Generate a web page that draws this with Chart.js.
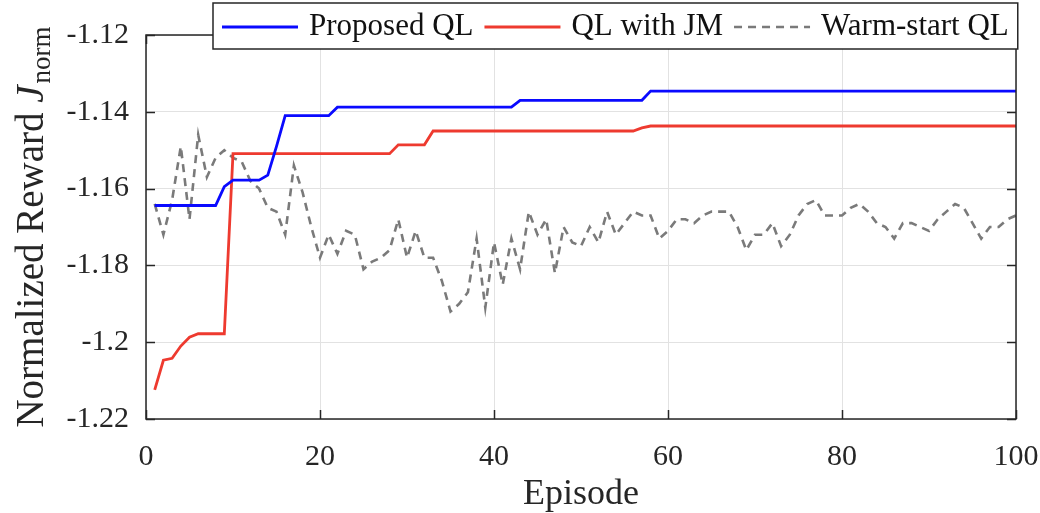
<!DOCTYPE html>
<html>
<head>
<meta charset="utf-8">
<script src="https://cdn.jsdelivr.net/npm/chart.js@4.4.1/dist/chart.umd.min.js"></script>
<style>
  html, body { margin: 0; padding: 0; background: #fff; }
  #wrap { width: 1040px; height: 513px; }
</style>
</head>
<body>
<div id="wrap"><canvas id="chart"></canvas></div>
<script>
const FONT = "'Liberation Serif', 'Times New Roman', serif";
const INK = "#262626";

const episodes = Array.from({ length: 100 }, (_, i) => i + 1);

const proposedQL = [
  -1.1644, -1.1644, -1.1644, -1.1644, -1.1644, -1.1644, -1.1644, -1.1644, -1.1595, -1.1578,
  -1.1578, -1.1578, -1.1578, -1.1565, -1.149, -1.141, -1.141, -1.141, -1.141, -1.141,
  -1.141, -1.1388, -1.1388, -1.1388, -1.1388, -1.1388, -1.1388, -1.1388, -1.1388, -1.1388,
  -1.1388, -1.1388, -1.1388, -1.1388, -1.1388, -1.1388, -1.1388, -1.1388, -1.1388, -1.1388,
  -1.1388, -1.1388, -1.137, -1.137, -1.137, -1.137, -1.137, -1.137, -1.137, -1.137,
  -1.137, -1.137, -1.137, -1.137, -1.137, -1.137, -1.137, -1.1346, -1.1346, -1.1346,
  -1.1346, -1.1346, -1.1346, -1.1346, -1.1346, -1.1346, -1.1346, -1.1346, -1.1346, -1.1346,
  -1.1346, -1.1346, -1.1346, -1.1346, -1.1346, -1.1346, -1.1346, -1.1346, -1.1346, -1.1346,
  -1.1346, -1.1346, -1.1346, -1.1346, -1.1346, -1.1346, -1.1346, -1.1346, -1.1346, -1.1346,
  -1.1346, -1.1346, -1.1346, -1.1346, -1.1346, -1.1346, -1.1346, -1.1346, -1.1346, -1.1346,
];

const qlWithJM = [
  -1.2124, -1.2047, -1.2042, -1.201, -1.1987, -1.1978, -1.1978, -1.1978, -1.1978, -1.1509,
  -1.1509, -1.1509, -1.1509, -1.1509, -1.1509, -1.1509, -1.1509, -1.1509, -1.1509, -1.1509,
  -1.1509, -1.1509, -1.1509, -1.1509, -1.1509, -1.1509, -1.1509, -1.1509, -1.1486, -1.1486,
  -1.1486, -1.1486, -1.145, -1.145, -1.145, -1.145, -1.145, -1.145, -1.145, -1.145,
  -1.145, -1.145, -1.145, -1.145, -1.145, -1.145, -1.145, -1.145, -1.145, -1.145,
  -1.145, -1.145, -1.145, -1.145, -1.145, -1.145, -1.1442, -1.1437, -1.1437, -1.1437,
  -1.1437, -1.1437, -1.1437, -1.1437, -1.1437, -1.1437, -1.1437, -1.1437, -1.1437, -1.1437,
  -1.1437, -1.1437, -1.1437, -1.1437, -1.1437, -1.1437, -1.1437, -1.1437, -1.1437, -1.1437,
  -1.1437, -1.1437, -1.1437, -1.1437, -1.1437, -1.1437, -1.1437, -1.1437, -1.1437, -1.1437,
  -1.1437, -1.1437, -1.1437, -1.1437, -1.1437, -1.1437, -1.1437, -1.1437, -1.1437, -1.1437,
];

const warmStartQL = [
  -1.164, -1.172, -1.163, -1.149, -1.168, -1.146, -1.157, -1.152, -1.150, -1.152,
  -1.153, -1.158, -1.160, -1.165, -1.166, -1.172, -1.154, -1.161, -1.170, -1.178,
  -1.172, -1.177, -1.171, -1.172, -1.181, -1.179, -1.178, -1.176, -1.168, -1.178,
  -1.171, -1.178, -1.178, -1.184, -1.192, -1.190, -1.187, -1.173, -1.191, -1.174,
  -1.185, -1.173, -1.181, -1.166, -1.172, -1.168, -1.182, -1.170, -1.174, -1.175,
  -1.170, -1.174, -1.166, -1.172, -1.169, -1.166, -1.167, -1.167, -1.173, -1.171,
  -1.168, -1.168, -1.169, -1.167, -1.166, -1.166, -1.166, -1.170, -1.176, -1.172,
  -1.172, -1.169, -1.175, -1.172, -1.167, -1.164, -1.163, -1.167, -1.167, -1.167,
  -1.165, -1.164, -1.166, -1.169, -1.170, -1.173, -1.169, -1.169, -1.170, -1.171,
  -1.168, -1.166, -1.164, -1.165, -1.169, -1.173, -1.170, -1.170, -1.168, -1.167,
];

const xTicks = [0, 20, 40, 60, 80, 100];
const yTicks = [-1.22, -1.2, -1.18, -1.16, -1.14, -1.12];

const toPoints = (values) => values.map((v, i) => ({ x: episodes[i], y: v }));

// axes box + inward tick marks (MATLAB style)
const axesFrame = {
  id: "axesFrame",
  afterDatasetsDraw(chart) {
    const { ctx, chartArea: a, scales } = chart;
    ctx.save();
    ctx.strokeStyle = INK;
    ctx.lineWidth = 1.5;
    ctx.strokeRect(a.left, a.top, a.right - a.left, a.bottom - a.top);
    ctx.beginPath();
    scales.x.ticks.forEach((t) => {
      const px = Math.round(scales.x.getPixelForValue(t.value)) + 0.5;
      ctx.moveTo(px, a.bottom); ctx.lineTo(px, a.bottom - 9);
      ctx.moveTo(px, a.top); ctx.lineTo(px, a.top + 9);
    });
    scales.y.ticks.forEach((t) => {
      const py = Math.round(scales.y.getPixelForValue(t.value)) + 0.5;
      ctx.moveTo(a.left, py); ctx.lineTo(a.left + 9, py);
      ctx.moveTo(a.right, py); ctx.lineTo(a.right - 9, py);
    });
    ctx.stroke();
    ctx.restore();
  },
};

// y title with italic J and subscript "norm"
const yTitle = {
  id: "yTitle",
  afterDraw(chart) {
    const { ctx, chartArea: a } = chart;
    const main = "Normalized Reward ";
    ctx.save();
    ctx.fillStyle = INK;
    ctx.textBaseline = "alphabetic";
    ctx.font = `39px ${FONT}`;
    const w1 = ctx.measureText(main).width;
    ctx.font = `italic 39px ${FONT}`;
    const w2 = ctx.measureText("J").width;
    ctx.font = `27px ${FONT}`;
    const w3 = ctx.measureText("norm").width;
    const total = w1 + w2 + 2 + w3;
    ctx.translate(43, (a.top + a.bottom) / 2);
    ctx.rotate(-Math.PI / 2);
    let x = -total / 2;
    ctx.font = `39px ${FONT}`;
    ctx.fillText(main, x, 0);
    x += w1;
    ctx.font = `italic 39px ${FONT}`;
    ctx.fillText("J", x, 0);
    x += w2 + 2;
    ctx.font = `27px ${FONT}`;
    ctx.fillText("norm", x, 7);
    ctx.restore();
  },
};

// boxed legend overlapping the top of the axes
const boxedLegend = {
  id: "boxedLegend",
  afterDraw(chart) {
    const { ctx } = chart;
    const datasets = chart.data.datasets;
    const left = 213, top = 3, height = 46;
    const pad = 9, sample = 76, lineGap = 11, entryGap = 11;
    ctx.save();
    ctx.font = `31px ${FONT}`;
    const widths = datasets.map((d) => ctx.measureText(d.label).width);
    let width = pad * 2;
    widths.forEach((w, i) => { width += sample + lineGap + w + (i < widths.length - 1 ? entryGap : 0); });
    ctx.fillStyle = "#fff";
    ctx.fillRect(left, top, width, height);
    ctx.strokeStyle = INK;
    ctx.lineWidth = 1.5;
    ctx.strokeRect(left, top, width, height);
    const cy = top + height / 2 + 1;
    let x = left + pad;
    datasets.forEach((d, i) => {
      ctx.beginPath();
      ctx.strokeStyle = d.borderColor;
      ctx.lineWidth = d.borderWidth;
      ctx.setLineDash(d.borderDash || []);
      ctx.moveTo(x, cy);
      ctx.lineTo(x + sample, cy);
      ctx.stroke();
      ctx.setLineDash([]);
      x += sample + lineGap;
      ctx.fillStyle = "#111";
      ctx.textBaseline = "middle";
      ctx.fillText(d.label, x, cy);
      x += widths[i] + entryGap;
    });
    ctx.restore();
  },
};

new Chart(document.getElementById("chart"), {
  type: "line",
  data: {
    datasets: [
      {
        label: "Proposed QL",
        data: toPoints(proposedQL),
        borderColor: "#0a0aff",
        borderWidth: 2.8,
        pointRadius: 0,
        tension: 0,
      },
      {
        label: "QL with JM",
        data: toPoints(qlWithJM),
        borderColor: "#ee3a2f",
        borderWidth: 2.8,
        pointRadius: 0,
        tension: 0,
      },
      {
        label: "Warm-start QL",
        data: toPoints(warmStartQL),
        borderColor: "#7a7a7a",
        borderWidth: 2.6,
        borderDash: [8, 6],
        pointRadius: 0,
        tension: 0,
      },
    ],
  },
  options: {
    responsive: true,
    maintainAspectRatio: false,
    animation: false,
    layout: { padding: { top: 35, right: 24, left: 0, bottom: 0 } },
    plugins: {
      legend: { display: false },
      tooltip: { enabled: false },
    },
    scales: {
      x: {
        type: "linear",
        min: 0,
        max: 100,
        afterBuildTicks: (s) => { s.ticks = xTicks.map((v) => ({ value: v })); },
        afterFit: (s) => { s.height = 94; s.paddingLeft = 0; s.paddingRight = 0; },
        grid: { color: "#e2e2e2", lineWidth: 1, drawTicks: false },
        border: { display: false },
        ticks: {
          color: INK,
          padding: 20,
          maxRotation: 0,
          font: { family: FONT, size: 30 },
          callback: (v) => String(v),
        },
        title: {
          display: true,
          text: "Episode",
          color: INK,
          font: { family: FONT, size: 36 },
          padding: { top: 0, bottom: -3 },
        },
      },
      y: {
        min: -1.22,
        max: -1.12,
        afterBuildTicks: (s) => { s.ticks = yTicks.map((v) => ({ value: v })); },
        afterFit: (s) => { s.width = 146; s.paddingTop = 0; s.paddingBottom = 0; },
        grid: { color: "#e2e2e2", lineWidth: 1, drawTicks: false },
        border: { display: false },
        ticks: {
          color: INK,
          padding: 17,
          font: { family: FONT, size: 30 },
          callback: (v) => String(+v.toFixed(2)),
        },
      },
    },
  },
  plugins: [axesFrame, yTitle, boxedLegend],
});
</script>
</body>
</html>
